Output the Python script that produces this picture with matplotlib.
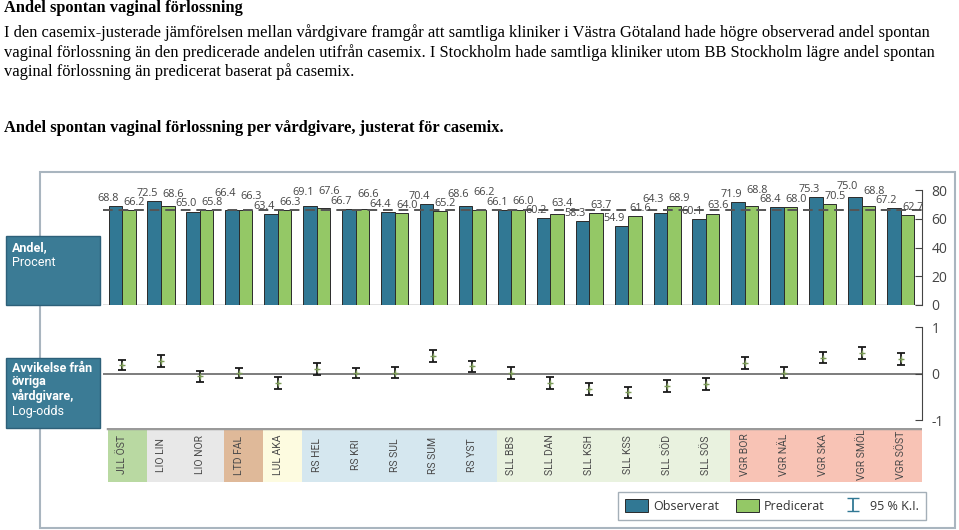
import numpy as np
import matplotlib.pyplot as plt
from matplotlib.patches import Rectangle, Patch

# data
kliniker = ["JLL ÖST", "LIO LIN", "LIO NOR", "LTD FAL", "LUL AKA", "RS HEL", "RS KRI",
            "RS SUL", "RS SUM", "RS YST", "SLL BBS", "SLL DAN", "SLL KSH", "SLL KSS",
            "SLL SÖD", "SLL SÖS", "VGR BOR", "VGR NÄL", "VGR SKA", "VGR SMÖL", "VGR SÖST"]
observerat = [68.8, 72.5, 65.0, 66.4, 63.4, 69.1, 66.7, 64.4, 70.4, 68.6, 66.1,
              60.2, 58.3, 54.9, 64.3, 60.1, 71.9, 68.4, 75.3, 75.0, 67.2]
predicerat = [66.2, 68.6, 65.8, 66.3, 66.3, 67.6, 66.6, 64.0, 65.2, 66.2, 66.0,
              63.4, 63.7, 61.6, 68.9, 63.6, 68.8, 68.0, 70.5, 68.8, 62.7]
riket = 65.8
avvikelse = [0.19, 0.28, -0.05, 0.02, -0.19, 0.11, 0.02, 0.03, 0.38, 0.16, 0.02,
             -0.20, -0.33, -0.40, -0.26, -0.21, 0.23, 0.03, 0.35, 0.45, 0.33]
ki_halv = [0.11, 0.135, 0.12, 0.11, 0.13, 0.13, 0.11, 0.12, 0.125, 0.115, 0.125,
           0.125, 0.13, 0.125, 0.12, 0.13, 0.125, 0.125, 0.12, 0.13, 0.13]

region_farg = {"JLL": "#b9d9a2", "LIO": "#e8e8e8", "LTD": "#dfb999", "LUL": "#fdfbe0",
               "RS": "#d5e7ef", "SLL": "#e9f2df", "VGR": "#f8c3b5"}

OBS = "#317894"
PRED = "#94c866"
GRA = "#444444"
sans = ["Open Sans", "DejaVu Sans"]
smal = ["Liberation Sans Narrow", "Roboto", "DejaVu Sans"]

W, H = 959, 530
fig = plt.figure(figsize=(W / 100, H / 100), dpi=100)


def fx(px):
    return px / W


def fy(py):
    return 1 - py / H


# header text
serif = ["Liberation Serif", "DejaVu Serif"]
fig.text(fx(4), fy(8), "Andel spontan vaginal förlossning", family=serif,
         weight="bold", size=11.8, va="center")
rader = ["I den casemix-justerade jämförelsen mellan vårdgivare framgår att samtliga kliniker i Västra Götaland hade högre observerad andel spontan",
         "vaginal förlossning än den predicerade andelen utifrån casemix. I Stockholm hade samtliga kliniker utom BB Stockholm lägre andel spontan",
         "vaginal förlossning än predicerat baserat på casemix."]
for k, r in enumerate(rader):
    fig.text(fx(4), fy(33 + 19.5 * k), r, family=serif, size=11.9, va="center")
fig.text(fx(4), fy(128), "Andel spontan vaginal förlossning per vårdgivare, justerat för casemix.",
         family=serif, weight="bold", size=11.9, va="center")

# frame around chart
fig.patches.append(Rectangle((fx(40), fy(528)), fx(915), (528 - 172) / H, transform=fig.transFigure,
                             fill=False, edgecolor="#a9b5bf", lw=1.5, zorder=0))

n = len(kliniker)
x = np.arange(n)
xl = (-0.49, 20.55)
bw = 0.347

# bar panel
ax = fig.add_axes([fx(103), fy(305), fx(922 - 103), (305 - 172) / H])
ax.bar(x - bw / 2, observerat, bw, color=OBS, edgecolor="#2b2b2b", lw=0.7, zorder=2)
ax.bar(x + bw / 2, predicerat, bw, color=PRED, edgecolor="#2b2b2b", lw=0.7, zorder=2)
ax.axhline(riket, color="#555555", lw=1.4, ls=(0, (5, 3)), zorder=3)
ax.axhline(0, color="#666666", lw=1.0, zorder=1)
ax.set_xlim(*xl)
ax.set_ylim(0, 133 / 1.4375)
for s in ["top", "left", "bottom"]:
    ax.spines[s].set_visible(False)
ax.spines["right"].set_bounds(0, 80)
ax.spines["right"].set_color(GRA)
ax.yaxis.tick_right()
ax.set_yticks([0, 20, 40, 60, 80])
ax.tick_params(axis="y", direction="in", length=5, color=GRA, labelcolor=GRA,
               labelsize=10, pad=7)
for t in ax.get_yticklabels():
    t.set_family(sans)
ax.set_xticks([])
ax.patch.set_alpha(0)

# error panel
ax2 = fig.add_axes([fx(103), fy(425), fx(922 - 103), 115 / H])
ax2.axhline(0, color="#666666", lw=1.2, zorder=1)
ax2.errorbar(x, avvikelse, yerr=ki_halv, fmt="+", color="#1a1a1a", ecolor="#1a1a1a",
             mec="#7c9b58", ms=4, elinewidth=1.3, capsize=3, capthick=1.3, zorder=3)
ax2.set_xlim(*xl)
ax2.set_ylim(-1.1, 64 / 46.5)
for s in ["top", "left", "bottom"]:
    ax2.spines[s].set_visible(False)
ax2.spines["right"].set_bounds(-1, 1)
ax2.spines["right"].set_color(GRA)
ax2.yaxis.tick_right()
ax2.set_yticks([-1, 0, 1])
ax2.set_yticklabels(["-1", "0", "1"])
ax2.tick_params(axis="y", direction="in", length=5, color=GRA, labelcolor=GRA,
                labelsize=10, pad=7)
for t in ax2.get_yticklabels():
    t.set_family(sans)
ax2.set_xticks([])
ax2.patch.set_alpha(0)

# category strip
ax3 = fig.add_axes([fx(103), fy(482), fx(922 - 103), (482 - 428) / H])
for i, k in enumerate(kliniker):
    ax3.axvspan(i - 0.5 + 0.13, i + 0.5 + 0.13, color=region_farg[k.split()[0]], lw=0)
    ax3.text(i, 0.5, k, rotation=90, ha="center", va="center", size=7.5,
             family=smal, color="#4a4a4a")
ax3.axhline(1, xmin=(0 - 0.5 + 0.13 - xl[0]) / (xl[1] - xl[0]), xmax=1,
            color="#9a9a9a", lw=2.5)
ax3.set_xlim(*xl)
ax3.set_ylim(0, 1)
ax3.axis("off")

# left label boxes
for top, bot in [(236, 305), (358, 428)]:
    fig.patches.append(Rectangle((fx(6), fy(bot)), fx(94), (bot - top) / H,
                                 transform=fig.transFigure, facecolor="#3b7b95",
                                 edgecolor="#2d6079", lw=1, zorder=2))
rubriker = [(248, "Andel,", "bold"), (263, "Procent", "normal"),
            (368, "Avvikelse från", "bold"), (382, "övriga", "bold"),
            (396, "vårdgivare,", "bold"), (411, "Log-odds", "normal")]
for py, txt, w in rubriker:
    fig.text(fx(12), fy(py), txt, color="white", weight=w, size=9,
             family=["Roboto", "DejaVu Sans"], va="center", zorder=3)

# value labels: lowest bars first, higher labels pushed up if they collide
fig.canvas.draw()
r = fig.canvas.get_renderer()
etiketter = [(observerat[i], i - 0.36) for i in range(n)] + \
            [(predicerat[i], i + 0.31) for i in range(n)]
etiketter.sort(key=lambda e: e[0])
placerade = []
for v, xp in etiketter:
    t = ax.annotate(f"{v:.1f}", (xp, v), xytext=(0, 1.5), textcoords="offset points",
                    ha="center", va="bottom", size=7.8, color=GRA, family=sans, zorder=4)
    off = 1.5
    while True:
        bb = t.get_window_extent(r).expanded(1.0, 0.8)
        if not any(bb.overlaps(p) for p in placerade):
            break
        off += 1
        t.xyann = (0, off)
    placerade.append(t.get_window_extent(r).expanded(1.0, 0.8))

# legend
eb = ax2.errorbar([np.nan], [np.nan], yerr=[0.1], fmt="none", ecolor=OBS, capsize=4,
                  elinewidth=1.3)
handles = [Patch(facecolor=OBS, edgecolor="#2b2b2b", lw=0.7),
           Patch(facecolor=PRED, edgecolor="#2b2b2b", lw=0.7), eb]
leg = fig.legend(handles, ["Observerat", "Predicerat", "95 % K.I."], loc="center",
                 bbox_to_anchor=(fx(772), fy(506)), ncol=3, frameon=True, fancybox=False,
                 edgecolor="#8d9ba6", prop={"family": sans, "size": 9}, handlelength=1.8,
                 handleheight=1.2, columnspacing=1.4, handletextpad=0.4, borderpad=0.6)
leg.get_frame().set_linewidth(1.0)
for t in leg.get_texts():
    t.set_color("#333333")

fig.savefig("out.png", dpi=100)
